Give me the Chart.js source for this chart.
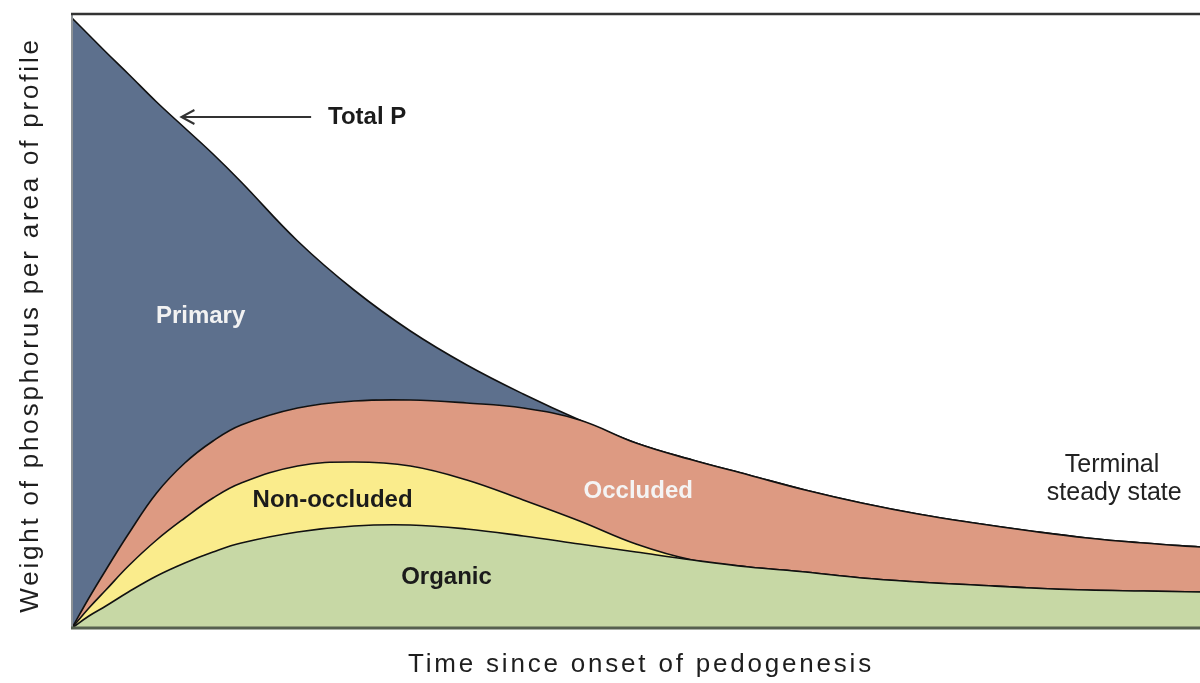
<!DOCTYPE html>
<html>
<head>
<meta charset="utf-8">
<title>Fósforo vs tiempo</title>
<script src="https://cdn.jsdelivr.net/npm/chart.js@4.4.0/dist/chart.umd.min.js"></script>
<style>
    html, body { margin: 0; padding: 0; background: #fff; }
    #wrap { width: 1200px; height: 683px; }
</style>
</head>
<body>
<div id="wrap"><canvas id="myChart" width="1200" height="683"></canvas></div>
<script>
// tiempo desde el inicio de la pedogenesis (0-100, sin unidades)
var tiempo = [0, 1.5, 3, 5, 7.5, 10, 12.5, 15, 20, 25, 30, 35, 40, 45, 50, 55, 60, 65, 70, 75, 80, 85, 90, 95, 100];

// cantidades de cada fraccion (se apilan de abajo hacia arriba)
var organico  = [0, 12, 22, 36, 52, 65, 76, 85, 96, 102, 103, 99, 92, 84, 76, 68, 61, 56, 50, 46, 43, 40, 38, 37, 36];
var noOcluido = [0, 8, 16, 26, 36, 45, 54, 60, 66, 64, 59, 49, 36, 23, 8, 0, 0, 0, 0, 0, 0, 0, 0, 0, 0];
var ocluido   = [0, 10, 20, 32, 47, 55, 57, 58, 58, 61, 66, 77, 92, 101, 101, 100, 92, 82, 75, 68, 62, 57, 52, 48, 45];
var primario  = [610, 563, 518, 460, 391, 335, 287, 243, 167, 111, 69, 38, 14, 0, 0, 0, 0, 0, 0, 0, 0, 0, 0, 0, 0];

var nombres = ['Organic', 'Non-occluded', 'Occluded', 'Primary'];
var colores = ['rgb(199, 216, 165)', 'rgb(250, 236, 140)', 'rgb(221, 154, 130)', 'rgb(93, 112, 141)'];

var yMax = 614;

// etiquetas dentro del grafico, en coordenadas de datos [t, valor]
var etiquetas = [
    { texto: 'Total P',      t: 22.7, v: 511, color: '#1b1b1b', font: 'bold 24px "Liberation Sans", Arial', align: 'left' },
    { texto: 'Primary',      t: 11.4, v: 312, color: '#f2f2f2', font: 'bold 24px "Liberation Sans", Arial', align: 'center' },
    { texto: 'Non-occluded', t: 23.1, v: 128, color: '#1b1b1b', font: 'bold 24px "Liberation Sans", Arial', align: 'center' },
    { texto: 'Occluded',     t: 50.2, v: 137, color: '#f4f4f4', font: 'bold 24px "Liberation Sans", Arial', align: 'center' },
    { texto: 'Organic',      t: 33.2, v: 51,  color: '#1b1b1b', font: 'bold 24px "Liberation Sans", Arial', align: 'center' },
    { texto: 'Terminal',     t: 92.2, v: 163, color: '#222',    font: '25px "Liberation Sans", Arial', align: 'center' },
    { texto: 'steady state', t: 92.4, v: 135, color: '#222',    font: '25px "Liberation Sans", Arial', align: 'center' }
];
var flecha = { t1: 21.2, t2: 9.7, v: 511 };

var tituloX = 'Time since onset of pedogenesis';
var tituloY = 'Weight of phosphorus per area of profile';

/////////////////////////////////////////////////////////////////
function serie(valores) {
    var puntos = [];
    for (var i = 0; i < tiempo.length; i++) {
        puntos.push({ x: tiempo[i], y: valores[i] });
    }
    return puntos;
}

/////////////////////////////////////////////////////////////////
var anotaciones = {
    id: 'anotaciones',
    afterDraw: function (chart) {
        var ctx = chart.ctx;
        var a = chart.chartArea;
        var sx = chart.scales.x;
        var sy = chart.scales.y;
        ctx.save();

        // marco
        ctx.lineCap = 'butt';
        ctx.strokeStyle = '#8d9296';
        ctx.lineWidth = 2;
        ctx.beginPath();
        ctx.moveTo(a.left, a.top);
        ctx.lineTo(a.left, a.bottom);
        ctx.stroke();
        ctx.strokeStyle = '#333';
        ctx.lineWidth = 2.5;
        ctx.beginPath();
        ctx.moveTo(a.left - 1, a.top);
        ctx.lineTo(a.right, a.top);
        ctx.stroke();
        ctx.strokeStyle = '#56604f';
        ctx.lineWidth = 3;
        ctx.beginPath();
        ctx.moveTo(a.left - 1, a.bottom);
        ctx.lineTo(a.right, a.bottom);
        ctx.stroke();

        // flecha de Total P
        var fx1 = sx.getPixelForValue(flecha.t1);
        var fx2 = sx.getPixelForValue(flecha.t2);
        var fy = sy.getPixelForValue(flecha.v);
        ctx.strokeStyle = '#333';
        ctx.lineWidth = 2;
        ctx.beginPath();
        ctx.moveTo(fx1, fy);
        ctx.lineTo(fx2, fy);
        ctx.moveTo(fx2 + 13, fy - 7);
        ctx.lineTo(fx2, fy);
        ctx.lineTo(fx2 + 13, fy + 7);
        ctx.stroke();

        // etiquetas
        ctx.textBaseline = 'middle';
        etiquetas.forEach(function (e) {
            ctx.font = e.font;
            ctx.fillStyle = e.color;
            ctx.textAlign = e.align;
            ctx.fillText(e.texto, sx.getPixelForValue(e.t), sy.getPixelForValue(e.v));
        });

        // titulos de ejes
        ctx.font = '26px "Liberation Sans", Arial';
        ctx.fillStyle = '#1e1e1e';
        ctx.letterSpacing = '2.8px';
        ctx.textAlign = 'center';
        ctx.fillText(tituloX, (a.left + a.right) / 2 + 5, 665);
        ctx.translate(31, 325);
        ctx.rotate(-Math.PI / 2);
        ctx.fillText(tituloY, 0, 0);
        ctx.restore();
    }
};

/////////////////////////////////////////////////////////////////
function grafica_inicial() {
    var valores = [organico, noOcluido, ocluido, primario];
    var datasets = [];
    for (var i = 0; i < valores.length; i++) {
        datasets.push({
            label: nombres[i],
            data: serie(valores[i]),
            backgroundColor: colores[i],
            borderColor: '#111',
            borderWidth: 1.6,
            fill: i == 0 ? 'origin' : '-1',
            pointRadius: 0,
            tension: 0.4
        });
    }

    var config = {
        type: 'line',
        data: { datasets: datasets },
        options: {
            responsive: false,
            animation: false,
            layout: { padding: { left: 72, top: 14, right: 0, bottom: 55 } },
            plugins: {
                legend: { display: false },
                tooltip: { enabled: false }
            },
            scales: {
                x: { type: 'linear', min: 0, max: 100, display: false },
                y: { stacked: true, min: 0, max: yMax, display: false }
            }
        },
        plugins: [anotaciones]
    };

    new Chart(document.getElementById('myChart'), config);
}

window.onload = function () {
    grafica_inicial();
};
</script>
</body>
</html>
